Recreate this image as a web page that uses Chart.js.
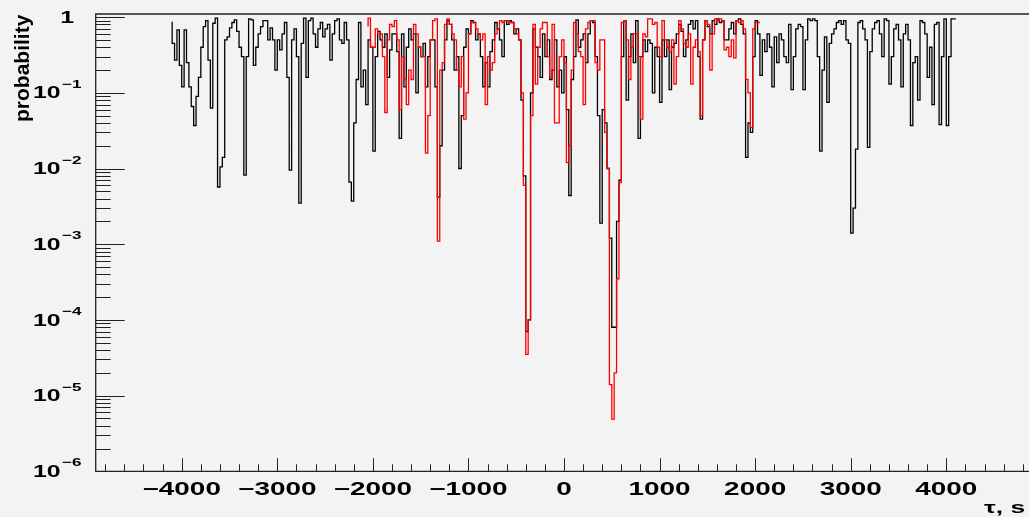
<!DOCTYPE html>
<html>
<head>
<meta charset="utf-8">
<script src="https://cdn.jsdelivr.net/npm/chart.js@4.4.0/dist/chart.umd.min.js"></script>
<style>
  html, body { margin: 0; padding: 0; background: #f3f3f3; overflow: hidden; }
  canvas { display: block; }
</style>
</head>
<body>
<canvas id="tauChart" width="1040" height="517"></canvas>
<script>
// black histogram: 25 s bins from -4100 s to 4100 s
const blackStart = -4100;
const blackWidth = 25;
const blackProb = [
    0.87, 0.45, 0.27, 0.68, 0.23, 0.12, 0.68, 0.25, 0.12, 0.066,
    0.037, 0.09, 0.16, 0.4, 0.75, 0.9, 0.27, 0.063, 0.83, 0.97,
    0.0057, 0.0105, 0.014, 0.5, 0.55, 0.72, 0.85, 0.92, 0.65, 0.4,
    0.3, 0.0082, 0.3, 0.95, 0.92, 0.23, 0.4, 0.6, 0.75, 0.9,
    0.9, 0.5, 0.72, 0.5, 0.2, 0.5, 0.37, 0.6, 0.85, 0.16,
    0.0095, 0.5, 0.7, 0.3, 0.0035, 0.45, 0.97, 0.16, 0.9, 0.97,
    0.6, 0.4, 0.7, 0.85, 0.55, 0.7, 0.8, 0.27, 0.6, 0.9,
    0.95, 0.5, 0.45, 0.85, 0.5, 0.0066, 0.0037, 0.04, 0.15, 0.85,
    0.12, 0.2, 0.07, 0.5, 0.4, 0.017, 0.3, 0.65, 0.5, 0.4,
    0.6, 0.16, 0.37, 0.6, 0.6, 0.35, 0.025, 0.6, 0.12, 0.4,
    0.7, 0.5, 0.6, 0.1, 0.4, 0.3, 0.45, 0.12, 0.3, 0.5,
    0.5, 0.12, 0.0042, 0.02, 0.2, 0.5, 0.9, 0.8, 0.5, 0.2,
    0.3, 0.01, 0.05, 0.4, 0.7, 0.6, 0.9, 0.85, 0.5, 0.6,
    0.3, 0.12, 0.25, 0.12, 0.35, 0.5, 0.85, 0.7, 0.5, 0.3,
    0.9, 0.8, 0.9, 0.85, 0.6, 0.7, 0.5, 0.08, 0.008, 7e-5,
    1e-4, 0.1, 0.7, 0.4, 0.3, 0.16, 0.6, 0.3, 0.5, 0.15,
    0.2, 0.5, 0.12, 0.2, 0.1, 0.3, 0.06, 0.0044, 0.15, 0.3,
    0.92, 0.4, 0.5, 0.6, 0.25, 0.6, 0.9, 0.85, 0.3, 0.05,
    0.0019, 0.06, 0.04, 0.01, 0.0012, 8e-5, 8e-5, 0.002, 0.007, 0.3,
    0.9, 0.08, 0.3, 0.6, 0.25, 0.9, 0.025, 0.3, 0.5, 0.35,
    0.5, 0.45, 0.1, 0.4, 0.3, 0.075, 0.5, 0.3, 0.5, 0.11,
    0.4, 0.45, 0.6, 0.8, 0.65, 0.3, 0.5, 0.8, 0.9, 0.7,
    0.9, 0.3, 0.045, 0.5, 0.9, 0.75, 0.6, 0.9, 0.8, 0.95,
    0.85, 0.9, 0.5, 0.5, 0.7, 0.85, 0.6, 0.9, 0.95, 0.8,
    0.6, 0.014, 0.04, 0.03, 0.3, 0.9, 0.6, 0.17, 0.5, 0.35,
    0.6, 0.4, 0.12, 0.55, 0.25, 0.6, 0.5, 0.3, 0.25, 0.8,
    0.11, 0.3, 0.7, 0.8, 0.75, 0.11, 0.5, 0.95, 0.9, 0.95,
    0.9, 0.3, 0.017, 0.2, 0.55, 0.075, 0.45, 0.6, 0.7, 0.85,
    0.9, 0.8, 0.9, 0.5, 0.45, 0.0014, 0.003, 0.018, 0.85, 0.9,
    0.7, 0.5, 0.019, 0.35, 0.7, 0.85, 0.9, 0.6, 0.3, 0.95,
    0.9, 0.13, 0.3, 0.7, 0.8, 0.5, 0.12, 0.6, 0.8, 0.5,
    0.037, 0.25, 0.3, 0.08, 0.9, 0.85, 0.6, 0.16, 0.4, 0.07,
    0.8, 0.85, 0.038, 0.3, 0.95, 0.037, 0.3, 0.95
];

// red histogram: 25 s bins from -2050 s to 2050 s
const redStart = -2050;
const redWidth = 25;
const redProb = [
    0.75, 0.97, 0.4, 0.4, 0.7, 0.6, 0.6, 0.3, 0.055, 0.5,
    0.8, 0.75, 0.9, 0.5, 0.06, 0.3, 0.15, 0.07, 0.2, 0.15,
    0.8, 0.6, 0.4, 0.3, 0.3, 0.016, 0.05, 0.5, 0.9, 0.95,
    0.0011, 0.2, 0.25, 0.8, 0.95, 0.8, 0.6, 0.5, 0.2, 0.12,
    0.3, 0.045, 0.1, 0.6, 0.85, 0.85, 0.7, 0.6, 0.5, 0.6,
    0.07, 0.3, 0.2, 0.25, 0.6, 0.7, 0.9, 0.85, 0.9, 0.9,
    0.85, 0.85, 0.7, 0.6, 0.5, 0.1, 0.006, 3.5e-5, 1e-4, 0.05,
    0.8, 0.13, 0.4, 0.7, 0.85, 0.85, 0.3, 0.16, 0.8, 0.04,
    0.04, 0.3, 0.5, 0.25, 0.012, 0.02, 0.2, 0.85, 0.6, 0.35,
    0.3, 0.07, 0.7, 0.85, 0.9, 0.9, 0.25, 0.2, 0.5, 0.5,
    0.03, 0.01, 1.4e-5, 4.9e-6, 2e-5, 3.5e-4, 0.0065, 0.85, 0.9, 0.5,
    0.15, 0.4, 0.6, 0.6, 0.3, 0.045, 0.6, 0.55, 0.95, 0.95,
    0.8, 0.85, 0.4, 0.3, 0.9, 0.5, 0.4, 0.35, 0.5, 0.13,
    0.3, 0.9, 0.7, 0.45, 0.4, 0.6, 0.13, 0.4, 0.5, 0.35,
    0.05, 0.5, 0.9, 0.8, 0.2, 0.6, 0.95, 0.9, 0.95, 0.9,
    0.37, 0.4, 0.3, 0.5, 0.29, 0.9, 0.85, 0.9, 0.7, 0.15,
    0.1, 0.035, 0.7, 0.85
];

const xLabels = [-4000, -3000, -2000, -1000, 0, 1000, 2000, 3000, 4000];
const yDecades = [0, -1, -2, -3, -4, -5, -6];

const FONT = '"Liberation Sans", Arial, sans-serif';
const WIDE = 1.55; // the labels in the picture are drawn wide

// points at the bin low edges, plus the last high edge
function histPoints(start, width, values) {
    const pts = values.map((v, i) => ({ x: start + i * width, y: v }));
    pts.push({ x: start + values.length * width, y: values[values.length - 1] });
    return pts;
}

function wideText(ctx, str, px, py, align, size) {
    ctx.save();
    ctx.font = 'bold ' + size + 'px ' + FONT;
    const w = ctx.measureText(str).width * WIDE;
    let left = px;
    if (align === 'center') left = px - w / 2;
    else if (align === 'right') left = px - w;
    ctx.translate(left, py);
    ctx.scale(WIDE, 1);
    ctx.textAlign = 'left';
    ctx.textBaseline = 'alphabetic';
    ctx.fillText(str, 0, 0);
    ctx.restore();
}

const rootAxes = {
    id: 'rootAxes',
    afterDatasetsDraw(chart) {
        const { ctx, chartArea: a, scales: { x, y } } = chart;
        ctx.save();
        ctx.strokeStyle = '#222';
        ctx.fillStyle = '#000';

        // frame
        ctx.lineWidth = 1.3;
        ctx.beginPath();
        ctx.moveTo(a.left, a.top);
        ctx.lineTo(a.right, a.top);
        ctx.lineTo(a.right, a.bottom);
        ctx.lineTo(a.left, a.bottom);
        ctx.closePath();
        ctx.stroke();

        // x ticks
        ctx.lineWidth = 1;
        ctx.beginPath();
        for (let v = -4800; v <= 4800; v += 200) {
            const px = Math.round(x.getPixelForValue(v)) + 0.5;
            const len = v % 1000 === 0 ? 13 : 7;
            ctx.moveTo(px, a.bottom);
            ctx.lineTo(px, a.bottom - len);
        }
        // y ticks
        yDecades.forEach(d => {
            for (let m = 1; m <= 9; m++) {
                const val = m * Math.pow(10, d);
                if (val > y.max) break;
                const py = Math.round(y.getPixelForValue(val)) + 0.5;
                const len = m === 1 ? 29 : 15;
                ctx.moveTo(a.left, py);
                ctx.lineTo(a.left + len, py);
            }
        });
        ctx.stroke();

        // x labels
        xLabels.forEach(v => {
            const txt = v < 0 ? '\u2212' + Math.abs(v) : String(v);
            wideText(ctx, txt, x.getPixelForValue(v), a.bottom + 24, 'center', 18);
        });

        // y labels
        yDecades.forEach(d => {
            const py = y.getPixelForValue(Math.pow(10, d));
            if (d === 0) {
                wideText(ctx, '1', 74, py + 5.6, 'right', 16);
            } else {
                wideText(ctx, '10', 60.5, py + 5.6, 'right', 16);
                wideText(ctx, '\u2212' + (-d), 62, py - 5, 'left', 11);
            }
        });

        // axis titles
        wideText(ctx, '\u03C4, s', 984, 513, 'left', 17);
        ctx.save();
        ctx.font = 'bold 21px ' + FONT;
        ctx.translate(29, 122);
        ctx.rotate(-Math.PI / 2);
        ctx.textAlign = 'left';
        ctx.textBaseline = 'alphabetic';
        ctx.fillText('probability', 0, 0);
        ctx.restore();

        ctx.restore();
    }
};

const ctx = document.getElementById('tauChart').getContext('2d');
new Chart(ctx, {
    type: 'line',
    data: {
        datasets: [{
            label: 'red',
            data: histPoints(redStart, redWidth, redProb),
            borderColor: '#ff0000',
            borderWidth: 1.3,
            stepped: 'after',
            pointRadius: 0,
            fill: false
        }, {
            label: 'black',
            data: histPoints(blackStart, blackWidth, blackProb),
            borderColor: '#000000',
            borderWidth: 1.3,
            stepped: 'after',
            pointRadius: 0,
            fill: false
        }]
    },
    options: {
        responsive: false,
        animation: false,
        layout: { padding: { left: 95.7, top: 14, bottom: 45.7, right: 7.7 } },
        plugins: { legend: { display: false }, tooltip: { enabled: false } },
        scales: {
            x: { type: 'linear', min: -4900, max: 4900, display: false },
            y: { type: 'logarithmic', min: 1e-6, max: 1.1, display: false }
        }
    },
    plugins: [rootAxes]
});
</script>
</body>
</html>
